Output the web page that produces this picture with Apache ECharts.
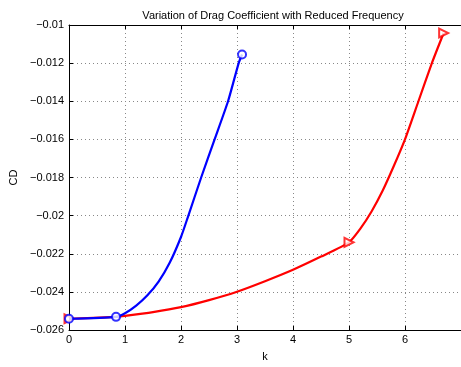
<!DOCTYPE html>
<html>
<head>
<meta charset="utf-8">
<script src="https://cdn.jsdelivr.net/npm/echarts@6/dist/echarts.min.js"></script>
<style>
html,body{margin:0;padding:0;background:#fff;}
#chart{width:461px;height:367px;}
</style>
</head>
<body>
<div id="chart"></div>
<script>
// Blue curve (k, CD)
var blueK  = [0, 0.84, 1.0, 1.2, 1.4, 1.6, 1.8, 2.0, 2.12, 2.36, 2.6, 2.84, 3.03, 3.09];
var blueCD = [-0.02541, -0.02531, -0.02512, -0.02472, -0.02418, -0.02346, -0.02246, -0.02112, -0.0201, -0.0180, -0.0160, -0.0140, -0.0120, -0.01155];
var blueMarkK  = [0, 0.84, 3.09];
var blueMarkCD = [-0.02541, -0.02531, -0.01155];
// Red curve (k, CD)
var redK  = [0, 0.84, 1, 1.5, 2, 2.5, 3, 3.5, 4, 4.5, 5, 5.2, 5.4, 5.6, 5.8, 6.0, 6.24, 6.48, 6.69];
var redCD = [-0.02541, -0.02531, -0.02526, -0.02506, -0.0248, -0.02443, -0.02399, -0.02344, -0.02284, -0.02215, -0.0214, -0.0207, -0.0198, -0.0187, -0.0174, -0.0160, -0.0140, -0.0120, -0.01042];
var redMarkK  = [0, 5, 6.69];
var redMarkCD = [-0.02541, -0.0214, -0.01042];
// Axis ticks
var xTicks = [0, 1, 2, 3, 4, 5, 6, 7];
var yTicks = [-0.026, -0.024, -0.022, -0.02, -0.018, -0.016, -0.014, -0.012, -0.01];

function zip(a, b) { return a.map(function (v, i) { return [v, b[i]]; }); }
function fmtY(v) { return String(Number(v.toFixed(3))).replace('-', '\u2212'); }

var font = 'Liberation Sans';
var gridLine = { show: true, lineStyle: { color: '#888', width: 1, type: [1, 3] } };
var chart = echarts.init(document.getElementById('chart'), null, { renderer: 'canvas' });
chart.setOption({
  animation: false,
  backgroundColor: '#fff',
  title: {
    text: 'Variation of Drag Coefficient with Reduced Frequency',
    left: 268, top: 5, textAlign: 'center',
    textStyle: { fontFamily: font, fontSize: 11, fontWeight: 'normal', color: '#000' }
  },
  grid: { left: 69, top: 25, right: -5, bottom: 28.5 },
  xAxis: [{
    type: 'value', min: xTicks[0], max: xTicks[xTicks.length - 1], interval: 1,
    name: 'k', nameLocation: 'middle', nameGap: 21,
    nameTextStyle: { fontFamily: font, fontSize: 11, color: '#000' },
    axisLine: { show: true, onZero: false, lineStyle: { color: '#000', width: 1 } },
    axisTick: { show: true, inside: true, length: 4, lineStyle: { color: '#000' } },
    axisLabel: { fontFamily: font, fontSize: 11, color: '#000', margin: 4, showMaxLabel: false },
    splitLine: gridLine
  }, {
    type: 'value', position: 'top', min: xTicks[0], max: xTicks[xTicks.length - 1], interval: 1,
    axisLine: { show: true, onZero: false, lineStyle: { color: '#000', width: 1 } },
    axisTick: { show: true, inside: true, length: 4, lineStyle: { color: '#000' } },
    axisLabel: { show: false }, splitLine: { show: false }
  }],
  yAxis: [{
    type: 'value', min: yTicks[0], max: yTicks[yTicks.length - 1], interval: 0.002,
    name: 'CD', nameLocation: 'middle', nameGap: 33,
    nameTextStyle: { fontFamily: font, fontSize: 11, color: '#000' },
    axisLine: { show: true, onZero: false, lineStyle: { color: '#000', width: 1 } },
    axisTick: { show: true, inside: true, length: 4, lineStyle: { color: '#000' } },
    axisLabel: { fontFamily: font, fontSize: 11, color: '#000', margin: 5, formatter: fmtY },
    splitLine: gridLine
  }],
  series: [
    { type: 'line', data: zip(redK, redCD), smooth: 0.2, symbol: 'none',
      lineStyle: { color: '#ff0000', width: 2.2, join: 'round' }, z: 3 },
    { type: 'scatter', data: zip(redMarkK, redMarkCD), symbol: 'emptyTriangle', symbolRotate: -90,
      symbolSize: 9, itemStyle: { color: '#ff0000', borderColor: '#ff0000', borderWidth: 2 }, clip: false, z: 4 },
    { type: 'line', data: zip(blueK, blueCD), smooth: 0.2, symbol: 'none',
      lineStyle: { color: '#0000ff', width: 2.2, join: 'round' }, z: 5 },
    { type: 'scatter', data: zip(blueMarkK, blueMarkCD), symbol: 'emptyCircle',
      symbolSize: 8, itemStyle: { color: '#0000ff', borderColor: '#0000ff', borderWidth: 2 }, clip: false, z: 6 }
  ]
});
</script>
</body>
</html>
